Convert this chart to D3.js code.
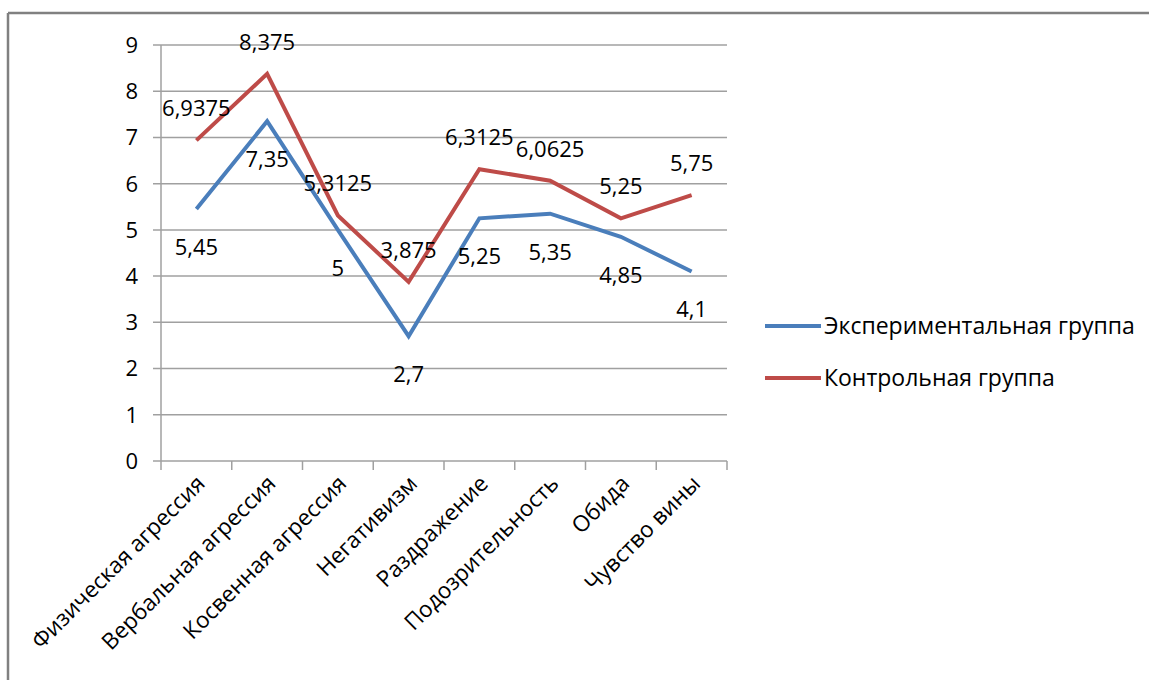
<!DOCTYPE html>
<html>
<head>
<meta charset="utf-8">
<script src="https://cdn.jsdelivr.net/npm/d3@7"></script>
<style>
body { margin: 0; background: #fff; }
text { font-family: "Open Sans", "Liberation Sans", sans-serif; fill: #000; }
</style>
</head>
<body>
<svg id="chart" width="1149" height="680"></svg>
<script>
var categories = ["Физическая агрессия", "Вербальная агрессия", "Косвенная агрессия", "Негативизм",
    "Раздражение", "Подозрительность", "Обида", "Чувство вины"];
var experimental = [5.45, 7.35, 5, 2.7, 5.25, 5.35, 4.85, 4.1];
var control = [6.9375, 8.375, 5.3125, 3.875, 6.3125, 6.0625, 5.25, 5.75];
var yTicks = [0, 1, 2, 3, 4, 5, 6, 7, 8, 9];
var seriesNames = ["Экспериментальная группа", "Контрольная группа"];

function draw() {
    var svg = d3.select("#chart");

    // outer frame (only top and left edges show)
    svg.append("line").attr("x1", 8).attr("x2", 1149).attr("y1", 13).attr("y2", 13)
        .attr("stroke", "#808080").attr("stroke-width", 2.5);
    svg.append("line").attr("x1", 8).attr("x2", 8).attr("y1", 13).attr("y2", 680)
        .attr("stroke", "#808080").attr("stroke-width", 2.5);

    var pLeft = 161, pRight = 727, pTop = 45, pBottom = 461;

    var x = d3.scaleBand().domain(categories).range([pLeft, pRight]);
    var y = d3.scaleLinear().domain([0, 9]).range([pBottom, pTop]);

    // gridlines + y labels
    svg.selectAll(".grid").data(yTicks).enter().append("line")
        .attr("x1", pLeft - 8).attr("x2", pRight)
        .attr("y1", function(d) { return y(d); }).attr("y2", function(d) { return y(d); })
        .attr("stroke", "#a0a0a0").attr("stroke-width", 1.5);

    svg.selectAll(".ylab").data(yTicks).enter().append("text")
        .attr("x", pLeft - 23).attr("y", function(d) { return y(d); })
        .attr("dy", "0.36em").attr("text-anchor", "end")
        .style("font-size", "22px").text(function(d) { return d; });

    // y axis line
    svg.append("line").attr("x1", pLeft).attr("x2", pLeft).attr("y1", pTop).attr("y2", pBottom)
        .attr("stroke", "#a0a0a0").attr("stroke-width", 1.5);

    // category tick marks
    var bounds = categories.map(function(c) { return x(c); }).concat([pRight]);
    svg.selectAll(".xtick").data(bounds).enter().append("line")
        .attr("x1", function(d) { return d; }).attr("x2", function(d) { return d; })
        .attr("y1", pBottom).attr("y2", pBottom + 9)
        .attr("stroke", "#a0a0a0").attr("stroke-width", 1.5);

    // category labels, rotated
    svg.selectAll(".xlab").data(categories).enter().append("text")
        .attr("transform", function(d) {
            return "translate(" + (x(d) + x.bandwidth() / 2 + 10) + "," + (pBottom + 24) + ") rotate(-45)";
        })
        .attr("text-anchor", "end")
        .style("font-size", "22.5px").text(function(d) { return d; });

    var line = d3.line()
        .x(function(d, i) { return x(categories[i]) + x.bandwidth() / 2; })
        .y(function(d) { return y(d); });

    var series = [
        { name: seriesNames[0], values: experimental, color: "#4a7ebb", dy: 38 },
        { name: seriesNames[1], values: control, color: "#be4b48", dy: -32 }
    ];

    series.forEach(function(s) {
        svg.append("path").datum(s.values)
            .attr("d", line).attr("fill", "none")
            .attr("stroke", s.color).attr("stroke-width", 4)
            .attr("stroke-linejoin", "miter");
    });

    series.forEach(function(s) {
        svg.selectAll(null).data(s.values).enter().append("text")
            .attr("x", function(d, i) { return x(categories[i]) + x.bandwidth() / 2; })
            .attr("y", function(d) { return y(d) + s.dy; })
            .attr("dy", "0.36em").attr("text-anchor", "middle")
            .style("font-size", "22px")
            .text(function(d) { return String(d).replace(".", ","); });
    });

    // legend
    var legend = svg.selectAll(".leg").data(series).enter().append("g")
        .attr("transform", function(d, i) { return "translate(765," + (326 + i * 52) + ")"; });
    legend.append("line").attr("x1", 0).attr("x2", 56).attr("y1", 0).attr("y2", 0)
        .attr("stroke", function(d) { return d.color; }).attr("stroke-width", 4);
    legend.append("text").attr("x", 59).attr("dy", "0.36em")
        .style("font-size", "23px").text(function(d) { return d.name; });
}

draw();
</script>
</body>
</html>
